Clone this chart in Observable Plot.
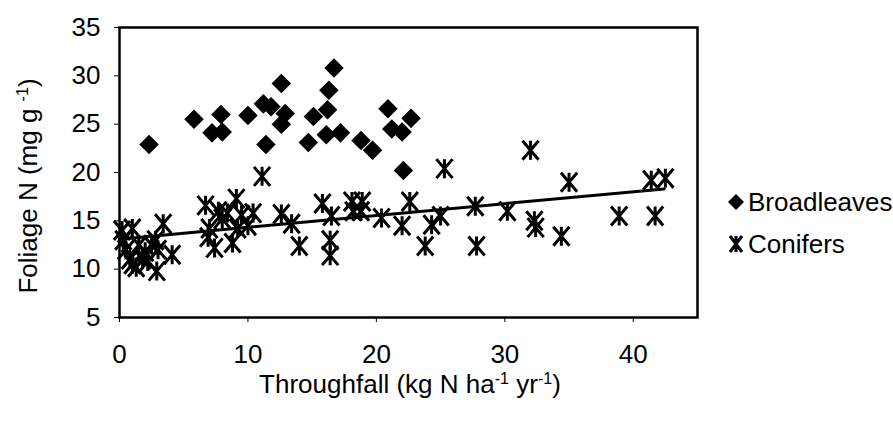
<!DOCTYPE html>
<html><head><meta charset="utf-8">
<script src="https://cdn.jsdelivr.net/npm/d3@7"></script>
<script src="https://cdn.jsdelivr.net/npm/@observablehq/plot@0.6"></script>
<style>
body{margin:0;background:#fff;font-family:"Liberation Sans",Arial,sans-serif;}
#wrap{position:relative;width:893px;height:423px;overflow:hidden;}
.lab{position:absolute;font-size:26px;color:#000;white-space:nowrap;line-height:1;}
.lab sup{font-size:62%;position:relative;top:-0.55em;vertical-align:baseline;}
#ylab{left:28px;top:186px;transform:translate(-50%,-50%) rotate(-90deg);}
#xlab{left:410px;top:384px;transform:translate(-50%,-50%);}
.leg{position:absolute;left:726px;font-size:26px;display:flex;align-items:center;gap:2px;white-space:nowrap;line-height:1;}
</style></head><body>
<div id="wrap">
<div class="lab" id="ylab">Foliage N (mg g <sup>-1</sup>)</div>
<div class="lab" id="xlab">Throughfall (kg N ha<sup>-1</sup> yr<sup>-1</sup>)</div>
<div class="leg" id="leg1" style="top:189px"></div>
<div class="leg" id="leg2" style="top:231px"></div>
</div>
<script>
const seriesNames = ["Broadleaves", "Conifers"];
const broadX = [2.3, 5.8, 7.9, 7.2, 8.0, 10.0, 11.2, 11.8, 12.6, 12.9, 12.6, 11.4, 14.7, 15.1, 16.1, 16.2, 16.3, 16.7, 17.2, 18.8, 19.7, 20.9, 21.2, 22.0, 22.7, 22.1];
const broadY = [22.9, 25.5, 26.0, 24.1, 24.2, 25.9, 27.1, 26.8, 29.2, 26.1, 25.0, 22.9, 23.1, 25.8, 23.9, 26.5, 28.5, 30.8, 24.1, 23.3, 22.3, 26.6, 24.5, 24.2, 25.6, 20.2];
const conX = [0.2, 0.3, 0.5, 0.8, 1.0, 1.0, 1.3, 1.5, 1.8, 2.0, 2.2, 2.5, 2.8, 2.9, 3.0, 3.4, 4.1,
  6.7, 7.0, 6.9, 7.4, 7.7, 8.0, 8.4, 8.8, 9.1, 9.2, 9.5, 10.0, 10.4, 11.1,
  12.6, 13.4, 14.0, 15.8, 16.5, 16.4, 16.4, 18.1, 18.9, 18.2, 18.8, 20.4,
  22.6, 22.0, 23.8, 24.3, 25.0, 25.3, 27.7, 27.8, 30.2, 32.0, 32.3, 32.4, 34.4, 35.0, 38.9, 41.4, 41.7, 42.5];
const conY = [14.0, 13.0, 12.0, 11.0, 14.2, 10.5, 10.2, 12.5, 11.0, 11.8, 10.8, 12.5, 13.0, 9.8, 12.0, 14.7, 11.5,
  16.6, 14.2, 13.3, 12.2, 16.0, 15.2, 15.8, 12.7, 17.3, 14.2, 15.6, 14.5, 15.8, 19.6,
  15.7, 14.7, 12.4, 16.8, 15.5, 13.0, 11.4, 17.0, 17.0, 16.0, 16.0, 15.3,
  17.0, 14.5, 12.4, 14.6, 15.5, 20.4, 16.5, 12.4, 16.0, 22.3, 15.0, 14.3, 13.4, 19.0, 15.5, 19.2, 15.5, 19.4];
const trendX = [0, 42.4];
const trendY = [13.1, 18.3];
const xTicks = [0, 10, 20, 30, 40];
const yTicks = [5, 10, 15, 20, 25, 30, 35];

const broad = broadX.map((x, i) => ({x, y: broadY[i]}));
const conifers = conX.map((x, i) => ({x, y: conY[i]}));
const trend = trendX.map((x, i) => ({x, y: trendY[i]}));

const star = {
  draw(ctx, size) {
    const r = Math.sqrt(size / Math.PI);
    const d = r * 0.85;
    ctx.moveTo(0, -r); ctx.lineTo(0, r);
    ctx.moveTo(-d, -r); ctx.lineTo(d, r);
    ctx.moveTo(-d, r); ctx.lineTo(d, -r);
  }
};

const chart = Plot.plot({
  width: 893, height: 423,
  marginLeft: 119, marginTop: 27, marginRight: 196, marginBottom: 106,
  style: {fontFamily: "'Liberation Sans', Arial, sans-serif", fontSize: "26px", color: "#000", background: "transparent"},
  x: {domain: [0, 45]},
  y: {domain: [5, 35]},
  marks: [
    Plot.axisX({ticks: xTicks, tickSize: 5, tickPadding: 22, label: null, fontSize: 26}),
    Plot.axisY({ticks: yTicks, tickSize: 5, tickPadding: 14, label: null, fontSize: 26}),
    Plot.frame({stroke: "#000", strokeWidth: 2.5}),
    Plot.line(trend, {x: "x", y: "y", stroke: "#000", strokeWidth: 3}),
    Plot.dot(broad, {x: "x", y: "y", symbol: "diamond2", r: 8.8, fill: "#000", stroke: "none"}),
    Plot.dot(conifers, {x: "x", y: "y", symbol: star, r: 9.5, fill: "none", stroke: "#000", strokeWidth: 3})
  ]
});
chart.style.position = "absolute";
chart.style.left = "0";
chart.style.top = "0";
document.getElementById("wrap").prepend(chart);

document.getElementById("leg1").innerHTML =
  '<svg width="20" height="20" viewBox="-10 -10 20 20"><path d="M0,-8L8,0L0,8L-8,0Z" fill="#000"/></svg><span>' + seriesNames[0] + '</span>';
document.getElementById("leg2").innerHTML =
  '<svg width="20" height="20" viewBox="-10 -10 20 20"><path d="M0,-8V8M-6,-8L6,8M-6,8L6,-8" stroke="#000" stroke-width="3" fill="none"/></svg><span>' + seriesNames[1] + '</span>';
</script>
</body></html>
